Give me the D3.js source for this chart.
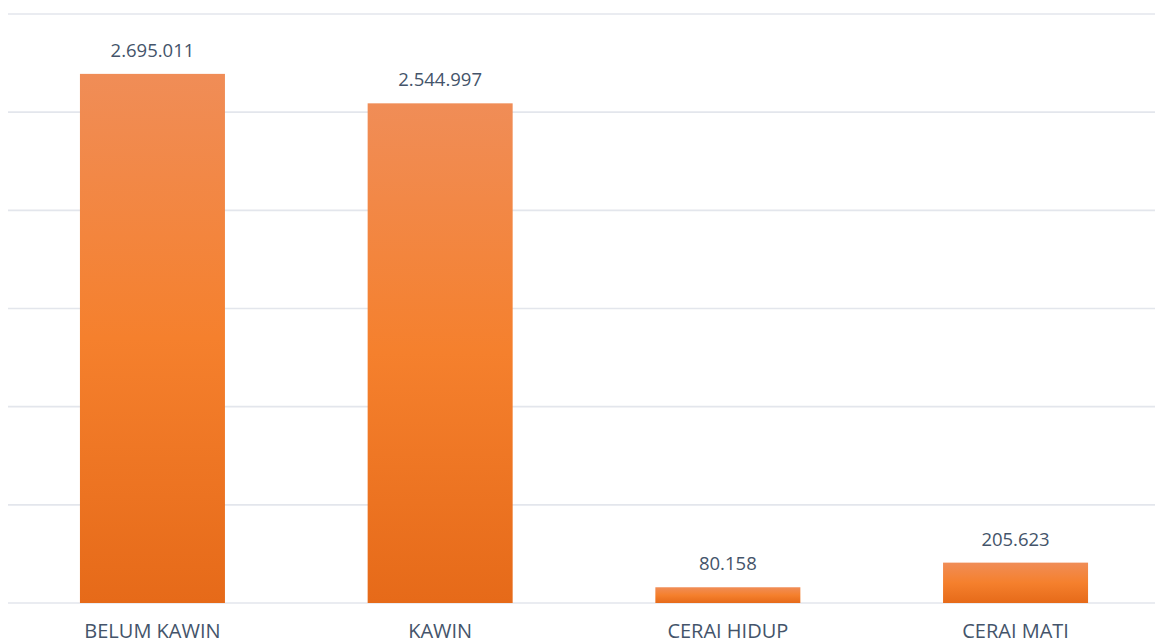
<!DOCTYPE html>
<html>
<head>
<meta charset="utf-8">
<script src="https://cdn.jsdelivr.net/npm/d3@7"></script>
<style>
  body { margin: 0; background: #fff; }
  text { font-family: "Open Sans", sans-serif; fill: #44546A; }
</style>
</head>
<body>
<svg id="chart"></svg>
<script>
const categories = ["BELUM KAWIN", "KAWIN", "CERAI HIDUP", "CERAI MATI"];
const values = [2695011, 2544997, 80158, 205623];
const labels = ["2.695.011", "2.544.997", "80.158", "205.623"];
const yTicks = [0, 500000, 1000000, 1500000, 2000000, 2500000, 3000000];

const width = 1155, height = 644;
const svg = d3.select("#chart").attr("width", width).attr("height", height);

//gradient like the office bar fill
const grad = svg.append("defs").append("linearGradient")
    .attr("id", "barGrad").attr("x1", 0).attr("y1", 0).attr("x2", 0).attr("y2", 1);
grad.append("stop").attr("offset", "0%").attr("stop-color", "#F08D57");
grad.append("stop").attr("offset", "50%").attr("stop-color", "#F5802D");
grad.append("stop").attr("offset", "100%").attr("stop-color", "#E66A19");

const x = d3.scaleBand().domain(categories).range([8.6, 1159.4])
    .paddingInner(0.496).paddingOuter(0.248);
const y = d3.scaleLinear().domain([0, 3000000]).range([603, 14]);

// grid
svg.append("g").selectAll("line").data(yTicks).join("line")
    .attr("x1", 8).attr("x2", width)
    .attr("y1", d => y(d)).attr("y2", d => y(d))
    .attr("stroke", "#E3E6EC").attr("stroke-width", 1.6);

svg.append("g").selectAll("rect").data(values).join("rect")
    .attr("x", (d, i) => x(categories[i]))
    .attr("width", x.bandwidth())
    .attr("y", d => y(d))
    .attr("height", d => y(0) - y(d))
    .attr("fill", "url(#barGrad)");

svg.append("g").selectAll("text").data(values).join("text")
    .attr("x", (d, i) => x(categories[i]) + x.bandwidth() / 2)
    .attr("y", d => y(d) - 17)
    .attr("text-anchor", "middle")
    .attr("font-size", 18.5)
    .text((d, i) => labels[i]);

// category axis
const xAxis = svg.append("g").attr("transform", `translate(0,${y(0)})`)
    .call(d3.axisBottom(x).tickSize(0).tickPadding(0));
xAxis.select(".domain").remove();
xAxis.selectAll("text")
    .attr("y", 35)
    .attr("dy", 0)
    .attr("font-size", 20)
    .style("font-family", "'Open Sans', sans-serif")
    .attr("fill", "#44546A");
</script>
</body>
</html>
